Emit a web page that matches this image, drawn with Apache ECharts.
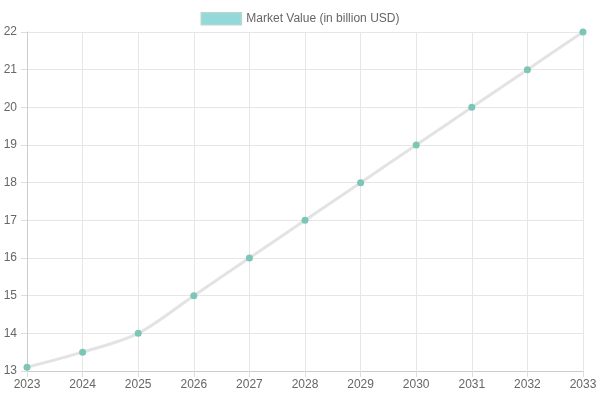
<!DOCTYPE html>
<html>
<head>
  <meta charset="utf-8">
  <script src="https://cdn.jsdelivr.net/npm/echarts@6/dist/echarts.min.js"></script>
</head>
<body style="margin:0">
  <div id="main" style="width:600px;height:400px;"></div>
  <script type="text/javascript">
  var years = ['2023', '2024', '2025', '2026', '2027', '2028', '2029', '2030', '2031', '2032', '2033'];
  var marketValue = [13.1, 13.5, 14, 15, 16, 17, 18, 19, 20, 21, 22];
  var seriesName = 'Market Value (in billion USD)';

  var myChart = echarts.init(document.getElementById('main'));

  var option = {
    animation: false,
    textStyle: { fontFamily: 'Liberation Sans, Arial, sans-serif' },
    legend: {
      top: 7,
      left: 'center',
      itemWidth: 40,
      itemHeight: 12,
      itemGap: 10,
      textStyle: { color: '#666', fontSize: 12 },
      data: [{
        name: seriesName,
        icon: 'rect',
        itemStyle: { color: '#93d9d9', borderColor: '#b3d6d2', borderWidth: 1.5 }
      }]
    },
    grid: { left: 27, right: 17, top: 32, bottom: 29 },
    xAxis: {
      type: 'category',
      boundaryGap: false,
      data: years,
      axisLine: { show: true, lineStyle: { color: '#ccc' } },
      axisTick: { show: true, length: 6, lineStyle: { color: '#ddd' } },
      axisLabel: { color: '#666', fontSize: 12, margin: 8 },
      splitLine: { show: true, lineStyle: { color: '#e6e6e6' } }
    },
    yAxis: {
      type: 'value',
      min: 13,
      max: 22,
      interval: 1,
      axisLine: { show: true, lineStyle: { color: '#ccc' } },
      axisTick: { show: true, length: 6, lineStyle: { color: '#ddd' } },
      axisLabel: { color: '#666', fontSize: 12, margin: 10 },
      splitLine: { show: true, lineStyle: { color: '#e6e6e6' } }
    },
    series: [{
      name: seriesName,
      type: 'line',
      data: marketValue,
      smooth: 0.3,
      symbol: 'circle',
      symbolSize: 7,
      lineStyle: { color: '#e3e3e3', width: 3 },
      itemStyle: { color: '#7cc6b8' }
    }]
  };

  myChart.setOption(option);
  </script>
</body>
</html>
